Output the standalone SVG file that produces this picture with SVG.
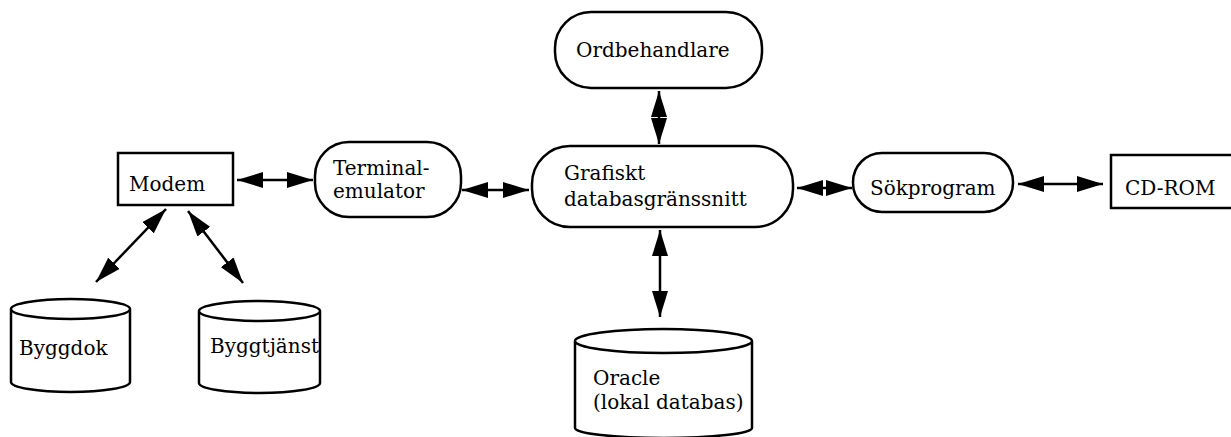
<svg xmlns="http://www.w3.org/2000/svg" width="1231" height="437" viewBox="0 0 1231 437">
<style>
.box{fill:#fff;stroke:#000;stroke-width:2.5}
.cyl{fill:#fff;stroke:#000;stroke-width:2.5}
.lbl{font-family:"DejaVu Serif","Liberation Serif",serif;font-size:20px;fill:#000}
.con{stroke:#000;stroke-width:2.5;fill:none;marker-start:url(#ah);marker-end:url(#ah)}
</style>
<defs>
<marker id="ah" viewBox="0 0 26 16" refX="26" refY="8" markerWidth="26" markerHeight="16" markerUnits="userSpaceOnUse" orient="auto-start-reverse">
<path d="M0,0 L26,8 L0,16 z" fill="#000"/>
</marker>
</defs>
<rect width="1231" height="437" fill="#fff"/>
<g id="connectors">
<line class="con" x1="237" y1="180" x2="313" y2="180"/>
<line class="con" x1="166" y1="209" x2="96" y2="282"/>
<line class="con" x1="188" y1="211" x2="243" y2="283"/>
<line class="con" x1="659" y1="91" x2="659" y2="144"/>
<line class="con" x1="462" y1="190" x2="529" y2="190"/>
<line class="con" x1="797" y1="188" x2="852" y2="188"/>
<line class="con" x1="1018" y1="184" x2="1103" y2="184"/>
<line class="con" x1="660" y1="230" x2="660" y2="317"/>
</g>
<g id="modem">
<rect class="box" x="118" y="153" width="115" height="52"/>
<text class="lbl" x="129" y="191">Modem</text>
</g>
<g id="terminal">
<rect class="box" x="315" y="142" width="146" height="75" rx="34" ry="34"/>
<text class="lbl" x="333" y="175">Terminal-</text>
<text class="lbl" x="333" y="198">emulator</text>
</g>
<g id="ordbehandlare">
<rect class="box" x="555" y="12" width="207" height="76" rx="36" ry="36"/>
<text class="lbl" x="576" y="57">Ordbehandlare</text>
</g>
<g id="grafiskt">
<rect class="box" x="532" y="146" width="261" height="81" rx="38" ry="38"/>
<text class="lbl" x="564" y="180">Grafiskt</text>
<text class="lbl" x="564" y="206">databasgränssnitt</text>
</g>
<g id="sokprogram">
<rect class="box" x="853" y="153" width="160" height="59" rx="29" ry="29"/>
<text class="lbl" x="870" y="195">Sökprogram</text>
</g>
<g id="cdrom">
<rect class="box" x="1111" y="155" width="125" height="53"/>
<text class="lbl" x="1125" y="195">CD-ROM</text>
</g>
<g id="byggdok">
<path class="cyl" d="M11,309 L11,382 A59.5,10 0 0,0 130,382 L130,309 A59.5,10 0 0,0 11,309 A59.5,10 0 0,0 130,309"/>
<text class="lbl" x="19" y="355">Byggdok</text>
</g>
<g id="byggtjanst">
<path class="cyl" d="M199,311 L199,383 A60.5,10 0 0,0 320,383 L320,311 A60.5,10 0 0,0 199,311 A60.5,10 0 0,0 320,311"/>
<text class="lbl" x="210" y="353">Byggtjänst</text>
</g>
<g id="oracle">
<path class="cyl" d="M575,341 L575,428 A88.5,10 0 0,0 752,428 L752,341 A88.5,12 0 0,0 575,341 A88.5,12 0 0,0 752,341"/>
<text class="lbl" x="593" y="385">Oracle</text>
<text class="lbl" x="593" y="409">(lokal databas)</text>
</g>
</svg>
